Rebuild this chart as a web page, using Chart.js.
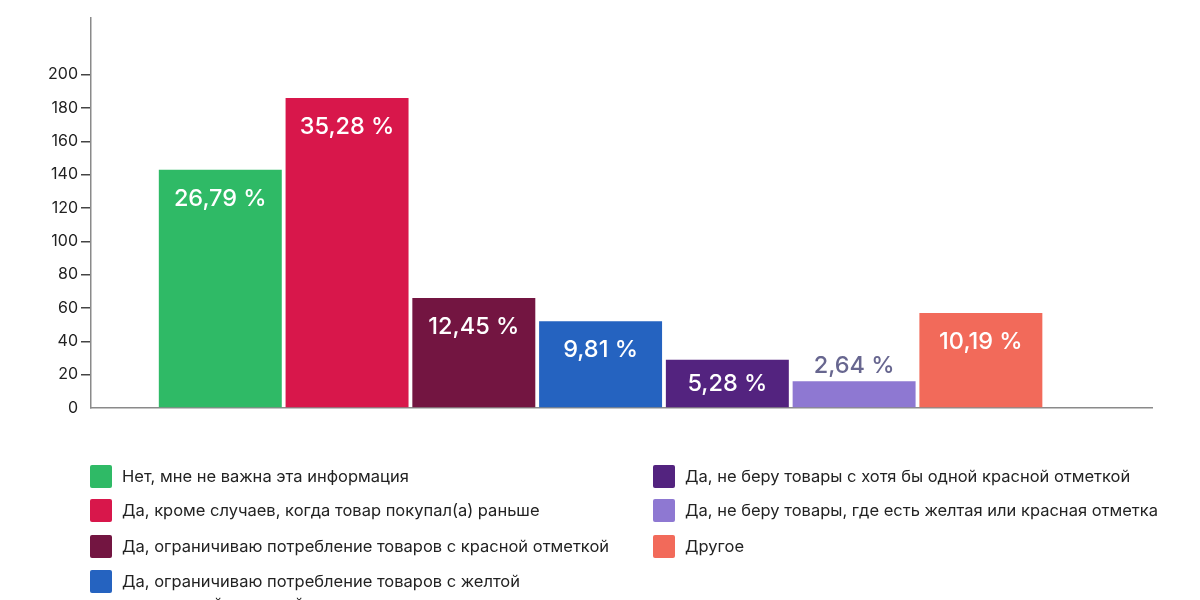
<!DOCTYPE html>
<html lang="ru">
<head>
<meta charset="utf-8">
<script src="https://cdn.jsdelivr.net/npm/chart.js@4.4.1/dist/chart.umd.min.js"></script>
<style>
  html, body { margin: 0; padding: 0; background: #ffffff; }
  body { width: 1200px; height: 600px; overflow: hidden; position: relative; font-family: Inter, "Noto Sans", sans-serif; }
  #chartBox { position: absolute; left: 0; top: 0; width: 1200px; height: 440px; }
  #legend { position: absolute; left: 0; top: 0; width: 1200px; height: 600px; pointer-events: none; }
  .item { position: absolute; display: flex; align-items: flex-start; font-size: 16.5px; color: #222; line-height: 23px; }
  .sw { width: 22px; height: 23px; border-radius: 2px; margin-right: 10px; flex: none; }
</style>
</head>
<body>
<div id="chartBox"><canvas id="c"></canvas></div>
<div id="legend"></div>
<script>
const categories = [
  'Нет, мне не важна эта информация',
  'Да, кроме случаев, когда товар покупал(а) раньше',
  'Да, ограничиваю потребление товаров с красной отметкой',
  'Да, ограничиваю потребление товаров с желтой\nили красной отметкой',
  'Да, не беру товары с хотя бы одной красной отметкой',
  'Да, не беру товары, где есть желтая или красная отметка',
  'Другое'
];
const values = [143, 186, 66, 52, 29, 16, 57];
const percentLabels = ['26,79 %', '35,28 %', '12,45 %', '9,81 %', '5,28 %', '2,64 %', '10,19 %'];
const colors = ['#2fba66', '#d8174b', '#731541', '#2563c0', '#53237f', '#8e78d2', '#f26a5a'];
const yTickValues = [0, 20, 40, 60, 80, 100, 120, 140, 160, 180, 200];

const points = values.map((v, i) => ({ x: i, y: v }));

const labelPlugin = {
  id: 'valueLabels',
  afterDatasetsDraw(chart) {
    const ctx = chart.ctx;
    const meta = chart.getDatasetMeta(0);
    ctx.save();
    ctx.font = '500 23.5px Inter, "Noto Sans", sans-serif';
    ctx.textAlign = 'center';
    ctx.textBaseline = 'middle';
    meta.data.forEach((bar, i) => {
      const h = bar.base - bar.y;
      if (h < 35) {
        ctx.fillStyle = '#67668f';
        ctx.fillText(percentLabels[i], bar.x, bar.y - 15);
      } else {
        ctx.fillStyle = '#ffffff';
        ctx.fillText(percentLabels[i], bar.x, bar.y + Math.min(29, h / 2));
      }
    });
    ctx.restore();
  }
};

new Chart(document.getElementById('c'), {
  type: 'bar',
  data: {
    datasets: [{
      data: points,
      backgroundColor: colors,
      borderWidth: 0,
      barPercentage: 0.97,
      categoryPercentage: 1.0
    }]
  },
  options: {
    responsive: true,
    maintainAspectRatio: false,
    animation: false,
    layout: { padding: { top: 18, right: 48, left: 0, bottom: 0 } },
    plugins: { legend: { display: false }, tooltip: { enabled: false } },
    scales: {
      x: {
        type: 'linear',
        offset: false,
        min: -1.02,
        max: 7.35,
        afterBuildTicks(scale) { scale.ticks = values.map((v, i) => ({ value: i })); },
        ticks: { display: false },
        grid: { display: false },
        border: { display: true, color: '#8a8a8a', width: 1.5 },
        afterFit(scale) { scale.height = 32; }
      },
      y: {
        min: 0,
        max: 234,
        afterBuildTicks(scale) { scale.ticks = yTickValues.map(v => ({ value: v })); },
        ticks: {
          color: '#222',
          padding: 3,
          font: { family: 'Inter, "Noto Sans", sans-serif', size: 16 }
        },
        grid: {
          display: true,
          drawOnChartArea: false,
          drawTicks: true,
          tickLength: 10,
          lineWidth: 1.5,
          color: (c) => (c.tick && c.tick.value === 0) ? 'rgba(0,0,0,0)' : '#444'
        },
        border: { display: true, color: '#8a8a8a', width: 1.5 },
        afterFit(scale) { scale.width = 91; }
      }
    }
  },
  plugins: [labelPlugin]
});

// HTML legend (two columns)
const legend = document.getElementById('legend');
const colX = [90, 653];
const rowY = [465, 499, 535, 570];
categories.forEach((name, i) => {
  const col = i < 4 ? 0 : 1;
  const row = i < 4 ? i : i - 4;
  const item = document.createElement('div');
  item.className = 'item';
  item.style.left = colX[col] + 'px';
  item.style.top = rowY[row] + 'px';
  const sw = document.createElement('div');
  sw.className = 'sw';
  sw.style.background = colors[i];
  const tx = document.createElement('div');
  tx.style.whiteSpace = 'pre';
  tx.textContent = name;
  item.appendChild(sw);
  item.appendChild(tx);
  legend.appendChild(item);
});
</script>
</body>
</html>
